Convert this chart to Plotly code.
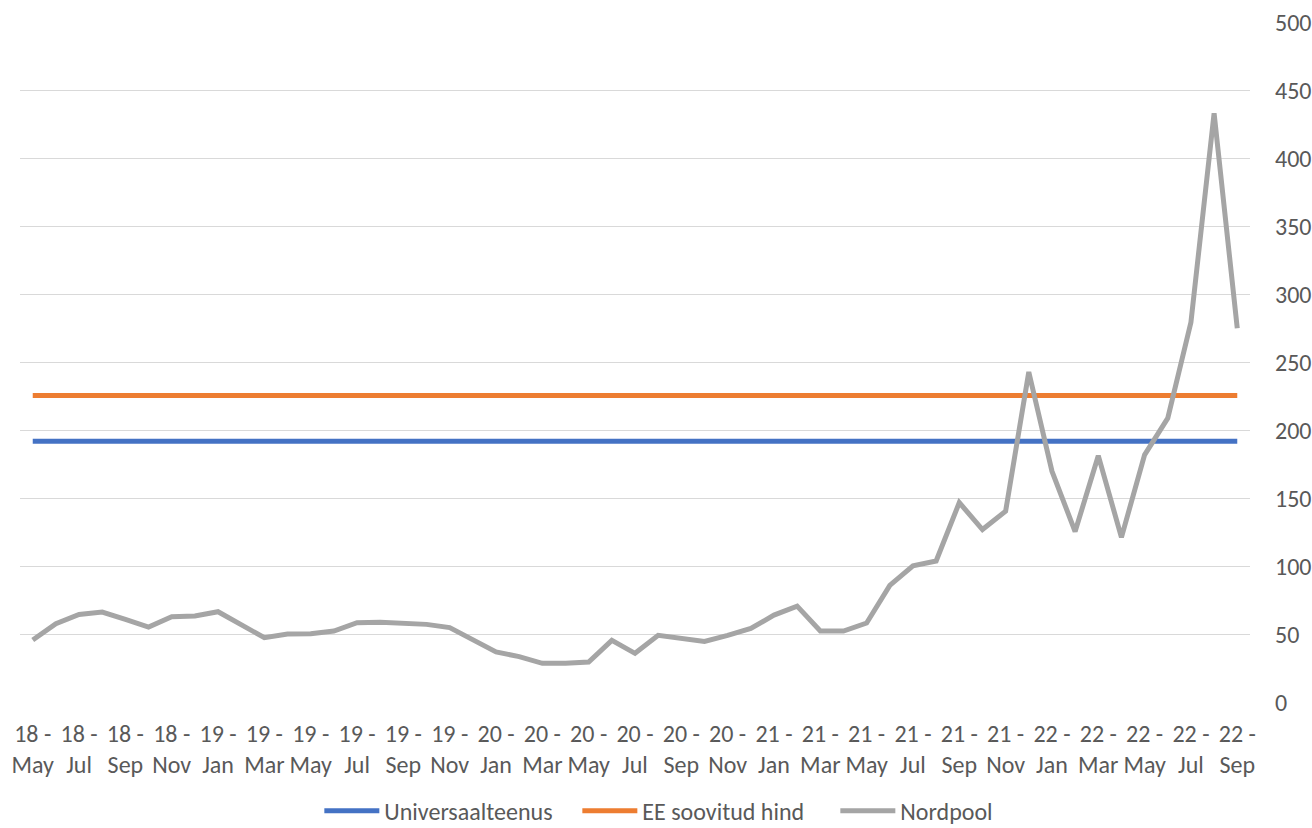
import plotly.graph_objects as go

years = ["18"] * 8 + ["19"] * 12 + ["20"] * 12 + ["21"] * 12 + ["22"] * 9
month_names = ["May", "Jun", "Jul", "Aug", "Sep", "Oct", "Nov", "Dec"] + \
    ["Jan", "Feb", "Mar", "Apr", "May", "Jun", "Jul", "Aug", "Sep", "Oct", "Nov", "Dec"] * 3 + \
    ["Jan", "Feb", "Mar", "Apr", "May", "Jun", "Jul", "Aug", "Sep"]
categories = [f"{y} - {m}" for y, m in zip(years, month_names)]

nordpool = [46.3, 58.3, 65.1, 66.8, 61.4, 55.8, 63.4, 63.9,
            67.1, 57.8, 48.0, 50.7, 50.9, 52.9, 59.0, 59.3, 59.0, 57.8, 55.4, 46.8,
            37.5, 34.1, 29.2, 29.2, 30.1, 46.0, 36.5, 49.7, 47.7, 45.3, 49.7, 54.8,
            64.6, 71.2, 52.9, 52.9, 58.8, 86.4, 100.8, 104.4, 147.3, 127.5, 141.0, 243.3,
            170.4, 126.0, 181.8, 121.8, 182.4, 209.4, 279.9, 433.5, 275.4]
universaalteenus = [192.5] * len(categories)
ee_soovitud = [226.0] * len(categories)

tick_cats = categories[::2]
tick_text = [c.replace(" - ", " -<br>") for c in tick_cats]
y_ticks = [0, 50, 100, 150, 200, 250, 300, 350, 400, 450, 500]

FONT = "Carlito, Calibri, Lato, sans-serif"
TXT = "#595959"
FS = 24

fig = go.Figure()
fig.add_trace(go.Scatter(x=categories, y=universaalteenus, name="Universaalteenus",
                         mode="lines", line=dict(color="#4472C4", width=5)))
fig.add_trace(go.Scatter(x=categories, y=ee_soovitud, name="EE soovitud hind",
                         mode="lines", line=dict(color="#ED7D31", width=5)))
fig.add_trace(go.Scatter(x=categories, y=nordpool, name="Nordpool",
                         mode="lines", line=dict(color="#A5A5A5", width=5)))

fig.update_layout(
    width=1312, height=828,
    margin=dict(l=20, r=62, t=22, b=125, autoexpand=False),
    paper_bgcolor="white", plot_bgcolor="white",
    font=dict(family=FONT, size=FS, color=TXT),
    showlegend=True,
    legend=dict(orientation="h", x=0.558, xanchor="center", y=-0.192, yanchor="bottom",
                font=dict(size=FS, color=TXT), itemwidth=55, tracegroupgap=0,
                entrywidth=188, entrywidthmode="pixels",
                bgcolor="rgba(0,0,0,0)"),
    xaxis=dict(type="category", categoryorder="array", categoryarray=categories,
               range=[-0.55, len(categories) - 0.45], automargin=False,
               tickmode="array", tickvals=tick_cats, ticktext=tick_text,
               showgrid=False, zeroline=False, showline=False, ticks="",
               ticklabelstandoff=14,
               tickangle=0, tickfont=dict(size=FS, color=TXT)),
    yaxis=dict(side="right", range=[0, 500.6], tickmode="array", tickvals=y_ticks,
               automargin=False,
               showgrid=True, gridcolor="#D9D9D9", gridwidth=1.3,
               zeroline=False, showline=False, ticks="",
               ticklabelstandoff=24, tickfont=dict(size=FS, color=TXT)),
)

fig.write_html("out.html", config={"displayModeBar": False},
               post_script="document.body.style.margin='0';document.body.style.padding='0';")
